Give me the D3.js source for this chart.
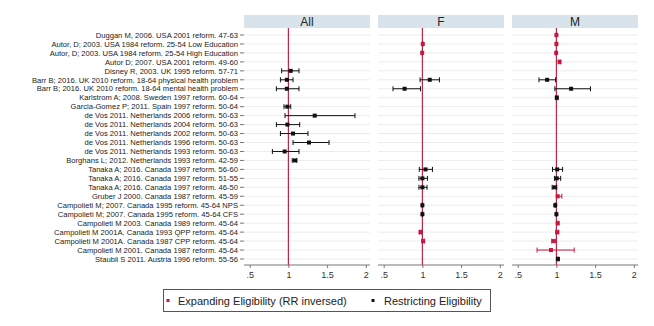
<!DOCTYPE html>
<html>
<head>
<meta charset="utf-8">
<script src="https://cdn.jsdelivr.net/npm/d3@7"></script>
<style>
  body { margin: 0; background: #fff; }
  svg { font-family: "Liberation Sans", Arial, sans-serif; }
</style>
</head>
<body>
<svg id="chart" width="654" height="326"></svg>
<script>
// study labels, top to bottom
const studies = [
  "Duggan M, 2006. USA 2001 reform. 47-63",
  "Autor, D; 2003. USA 1984 reform. 25-54 Low Education",
  "Autor, D; 2003. USA 1984 reform. 25-54 High Education",
  "Autor D; 2007. USA 2001 reform. 49-60",
  "Disney R, 2003. UK 1995 reform. 57-71",
  "Barr B; 2016. UK 2010 reform. 18-64 physical health problem",
  "Barr B; 2016. UK 2010 reform. 18-64 mental health problem",
  "Karlstrom A; 2008. Sweden 1997 reform. 60-64",
  "Garcia-Gomez P; 2011. Spain 1997 reform. 50-64",
  "de Vos 2011. Netherlands 2006 reform. 50-63",
  "de Vos 2011. Netherlands 2004 reform. 50-63",
  "de Vos 2011. Netherlands 2002 reform. 50-63",
  "de Vos 2011. Netherlands 1996 reform. 50-63",
  "de Vos 2011. Netherlands 1993 reform. 50-63",
  "Borghans L; 2012. Netherlands 1993 reform. 42-59",
  "Tanaka A; 2016. Canada 1997 reform. 56-60",
  "Tanaka A; 2016. Canada 1997 reform. 51-55",
  "Tanaka A; 2016. Canada 1997 reform. 46-50",
  "Gruber J 2000. Canada 1987 reform. 45-59",
  "Campolieti M; 2007. Canada 1995 reform. 45-64 NPS",
  "Campolieti M; 2007. Canada 1995 reform. 45-64 CFS",
  "Campolieti M 2003. Canada 1989 reform. 45-64",
  "Campolieti M 2001A. Canada 1993 QPP reform. 45-64",
  "Campolieti M 2001A. Canada 1987 CPP reform. 45-64",
  "Campolieti M 2001. Canada 1987 reform. 45-64",
  "Staubli S 2011. Austria 1996 reform. 55-56"
];

// 1 = expanding eligibility (RR inversed), 0 = restricting
const expanding = [1,1,1,1,0,0,0,0,0,0,0,0,0,0,0,0,0,0,1,0,0,1,1,1,1,0];

const panels = ["All", "F", "M"];

// All
const allEst = [null,null,null,null,1.03,0.98,0.98,null,0.987,1.34,0.987,1.06,1.266,0.952,1.085,null,null,null,null,null,null,null,null,null,null,null];
const allLo  = [null,null,null,null,0.913,0.897,0.845,null,0.943,0.956,0.845,0.897,1.06,0.793,1.05,null,null,null,null,null,null,null,null,null,null,null];
const allHi  = [null,null,null,null,1.137,1.06,1.137,null,1.03,1.86,1.146,1.253,1.525,1.137,1.11,null,null,null,null,null,null,null,null,null,null,null];

// F
const fEst = [null,1.005,0.997,null,null,1.095,0.77,null,null,null,null,null,null,null,null,1.04,1.0,1.0,null,1.0,1.0,null,0.975,1.01,null,null];
const fLo  = [null,0.998,0.992,null,null,0.97,0.62,null,null,null,null,null,null,null,null,0.96,0.955,0.955,null,0.995,0.995,null,0.962,0.995,null,null];
const fHi  = [null,1.012,1.002,null,null,1.22,0.975,null,null,null,null,null,null,null,null,1.13,1.065,1.06,null,1.005,1.005,null,0.988,1.025,null,null];

// M
const mEst = [1.0,1.0,0.997,1.04,null,0.88,1.19,1.005,null,null,null,null,null,null,null,1.01,1.005,0.975,1.017,0.985,1.0,1.017,1.01,0.965,0.93,1.02];
const mLo  = [0.995,0.995,0.992,1.03,null,0.775,0.98,0.99,null,null,null,null,null,null,null,0.95,0.975,0.945,1.005,0.98,0.995,1.005,0.995,0.94,0.75,1.01];
const mHi  = [1.005,1.005,1.002,1.055,null,0.99,1.44,1.02,null,null,null,null,null,null,null,1.08,1.055,1.005,1.07,0.99,1.005,1.03,1.03,0.995,1.23,1.03];

const xTicks = [0.5, 1, 1.5, 2];
const legendLabels = ["Expanding Eligibility (RR inversed)", "Restricting Eligibility"];

const panelEst = [allEst, fEst, mEst];
const panelLo = [allLo, fLo, mLo];
const panelHi = [allHi, fHi, mHi];

const red = "#c8173f";
const lineRed = "#b8284d";

const svg = d3.select("#chart");

const plotTop = 28, plotBottom = 265;
const panelW = 126;
const panelLeft = [244, 378, 512];

const y = d3.scalePoint()
  .domain(studies)
  .range([35, 259]);

panels.forEach((name, p) => {
  const left = panelLeft[p];
  const x = d3.scaleLinear().domain([0.5, 2]).range([left + 5.7, left + 121.8]);
  const g = svg.append("g");

  // header strip
  g.append("rect")
    .attr("x", left).attr("y", 15)
    .attr("width", panelW).attr("height", 13)
    .attr("fill", "#d8e3eb");
  g.append("text")
    .attr("x", left + panelW / 2).attr("y", 25.5)
    .attr("text-anchor", "middle")
    .attr("font-size", 12)
    .attr("fill", "#222")
    .text(name);

  // grid lines
  g.selectAll(".grid")
    .data(studies)
    .enter().append("line")
    .attr("x1", left).attr("x2", left + panelW)
    .attr("y1", d => y(d)).attr("y2", d => y(d))
    .attr("stroke", "#ececec")
    .attr("stroke-width", 1);

  // x axis
  const ax = g.append("g")
    .attr("transform", "translate(0," + plotBottom + ")")
    .call(d3.axisBottom(x).tickValues(xTicks).tickSize(3).tickPadding(4)
      .tickFormat(d => d === 0.5 ? ".5" : String(d)));
  ax.select(".domain").attr("d", "M" + left + ",0H" + (left + panelW)).attr("stroke", "#777");
  ax.selectAll(".tick line").attr("stroke", "#777");
  ax.selectAll("text").attr("font-size", 9).attr("fill", "#333")
    .attr("font-family", "Liberation Sans, Arial, sans-serif");

  // reference line at 1
  g.append("line")
    .attr("x1", x(1)).attr("x2", x(1))
    .attr("y1", plotTop).attr("y2", plotBottom)
    .attr("stroke", lineRed)
    .attr("stroke-width", 1.2);

  const rows = studies.map((s, i) => ({
    s, est: panelEst[p][i], lo: panelLo[p][i], hi: panelHi[p][i], exp: expanding[i]
  })).filter(d => d.est !== null);

  const ci = g.selectAll(".ci").data(rows).enter().append("g")
    .attr("stroke", d => d.exp ? red : "#111")
    .attr("stroke-width", 1);
  ci.append("line")
    .attr("x1", d => x(d.lo)).attr("x2", d => x(d.hi))
    .attr("y1", d => y(d.s)).attr("y2", d => y(d.s));
  ci.append("line")
    .attr("x1", d => x(d.lo)).attr("x2", d => x(d.lo))
    .attr("y1", d => y(d.s) - 2.5).attr("y2", d => y(d.s) + 2.5);
  ci.append("line")
    .attr("x1", d => x(d.hi)).attr("x2", d => x(d.hi))
    .attr("y1", d => y(d.s) - 2.5).attr("y2", d => y(d.s) + 2.5);

  g.selectAll(".pt").data(rows).enter().append("rect")
    .attr("x", d => x(d.est) - 2)
    .attr("y", d => y(d.s) - 2)
    .attr("width", 4).attr("height", 4)
    .attr("fill", d => d.exp ? red : "#111");
});

// study labels on the left
const ly = svg.append("g");
ly.selectAll("text").data(studies).enter().append("text")
  .attr("x", 238)
  .attr("y", d => y(d) + 2.7)
  .attr("text-anchor", "end")
  .attr("font-size", 7.6)
  .attr("fill", "#222")
  .text(d => d);
ly.selectAll("line").data(studies).enter().append("line")
  .attr("x1", 240).attr("x2", 244)
  .attr("y1", d => y(d)).attr("y2", d => y(d))
  .attr("stroke", "#777");

// legend
const lg = svg.append("g");
lg.append("rect")
  .attr("x", 163.5).attr("y", 289.5)
  .attr("width", 327).attr("height", 22)
  .attr("fill", "#fff")
  .attr("stroke", "#555");
const legX = [168, 373];
const legTx = [178, 384];
legendLabels.forEach((t, i) => {
  lg.append("rect")
    .attr("x", legX[i] - 1.5).attr("y", 299)
    .attr("width", 3).attr("height", 3)
    .attr("fill", i === 0 ? red : "#111");
  lg.append("text")
    .attr("x", legTx[i]).attr("y", 304.5)
    .attr("font-size", 11)
    .attr("fill", "#222")
    .text(t);
});
</script>
</body>
</html>
